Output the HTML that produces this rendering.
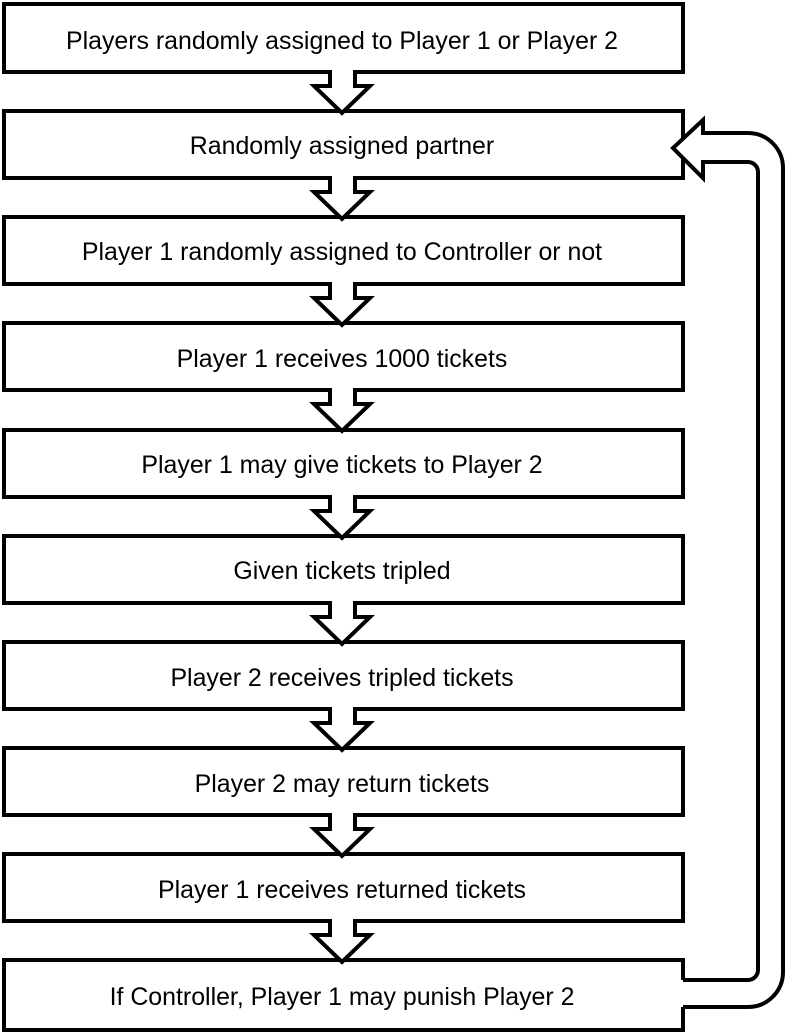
<!DOCTYPE html>
<html><head><meta charset="utf-8"><style>
html,body{margin:0;padding:0;background:#fff;}
svg{display:block;}
text{font-family:"Liberation Sans",Arial,sans-serif;font-size:24.9px;fill:#000;}
</style></head><body>
<svg width="791" height="1035" viewBox="0 0 791 1035" xmlns="http://www.w3.org/2000/svg">
<g fill="#fff" stroke="#000" stroke-width="4">
<rect x="4" y="4" width="679" height="68"/>
<rect x="4" y="111" width="679" height="67"/>
<rect x="4" y="217" width="679" height="67"/>
<rect x="4" y="323" width="679" height="67"/>
<rect x="4" y="430" width="679" height="67"/>
<rect x="4" y="536" width="679" height="67"/>
<rect x="4" y="642" width="679" height="67"/>
<rect x="4" y="748" width="679" height="67"/>
<rect x="4" y="854" width="679" height="67"/>
<rect x="4" y="960" width="679" height="70"/>
</g>
<defs>
<g id="arr">
<polygon points="330,-2 330,14 314,14 342,41 370,14 355,14 355,-2" fill="#fff" stroke="none"/>
<path d="M330,-2 V14 H314 L342,41 L370,14 H355 V-2" fill="none" stroke="#000" stroke-width="4" stroke-linejoin="miter"/>
</g>
</defs>
<use href="#arr" transform="translate(0,72)"/>
<use href="#arr" transform="translate(0,178)"/>
<use href="#arr" transform="translate(0,284)"/>
<use href="#arr" transform="translate(0,390)"/>
<use href="#arr" transform="translate(0,497)"/>
<use href="#arr" transform="translate(0,603)"/>
<use href="#arr" transform="translate(0,709)"/>
<use href="#arr" transform="translate(0,815)"/>
<use href="#arr" transform="translate(0,921)"/>
<path d="M681,980 H748 A10,10 0 0 0 758,970 V172 A10,10 0 0 0 748,162 H703 V178 L673,148 L703,120 V133 H748 A35,35 0 0 1 783,168 V972 A35,35 0 0 1 748,1007 H681 Z" fill="#fff" stroke="none"/>
<path d="M683,980 H748 A10,10 0 0 0 758,970 V172 A10,10 0 0 0 748,162 H703 V178 L673,148 L703,120 V133 H748 A35,35 0 0 1 783,168 V972 A35,35 0 0 1 748,1007 H683" fill="none" stroke="#000" stroke-width="4"/>
<g text-anchor="middle">
<text x="342" y="49">Players randomly assigned to Player 1 or Player 2</text>
<text x="342" y="154">Randomly assigned partner</text>
<text x="342" y="260">Player 1 randomly assigned to Controller or not</text>
<text x="342" y="367">Player 1 receives 1000 tickets</text>
<text x="342" y="473">Player 1 may give tickets to Player 2</text>
<text x="342" y="579">Given tickets tripled</text>
<text x="342" y="686">Player 2 receives tripled tickets</text>
<text x="342" y="792">Player 2 may return tickets</text>
<text x="342" y="898">Player 1 receives returned tickets</text>
<text x="342" y="1005">If Controller, Player 1 may punish Player 2</text>
</g>
</svg>
</body></html>
